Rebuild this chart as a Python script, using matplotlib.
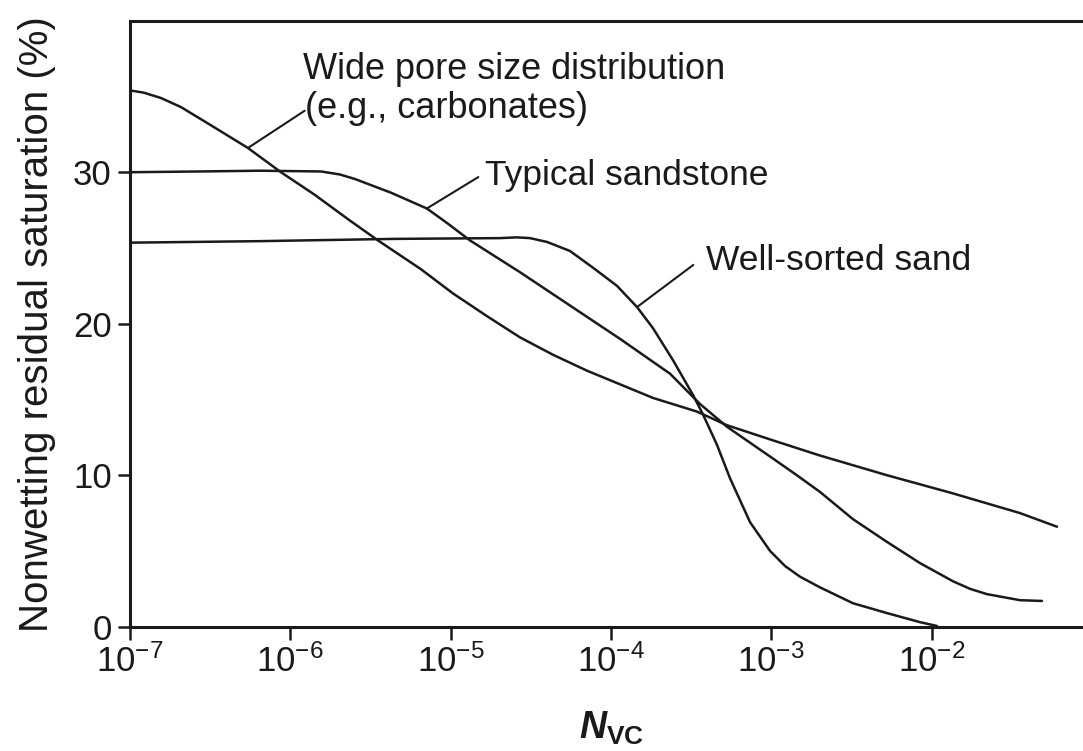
import numpy as np
import matplotlib.pyplot as plt
from matplotlib.ticker import NullLocator

plt.rcParams['font.family'] = 'Liberation Sans'
plt.rcParams['mathtext.fontset'] = 'custom'
plt.rcParams['mathtext.it'] = 'Liberation Sans:style=italic:weight=bold'
plt.rcParams['mathtext.bf'] = 'Liberation Sans:weight=bold'
plt.rcParams['mathtext.rm'] = 'Liberation Sans'

# log10(N_vc) and residual saturation (%) for each rock type
wide_logn = [-7.0, -6.913, -6.807, -6.682, -6.495, -6.264, -6.058, -5.846, -5.640, -5.453,
             -5.185, -4.985, -4.773, -4.567, -4.361, -4.149, -3.943, -3.737, -3.463,
             -3.276, -2.989, -2.696, -2.278, -1.866, -1.448, -1.217]
wide_sat = [35.4, 35.25, 34.9, 34.3, 33.1, 31.6, 30.0, 28.5, 26.9, 25.5,
            23.6, 22.0, 20.5, 19.1, 17.95, 16.9, 16.0, 15.1, 14.2,
            13.3, 12.3, 11.3, 10.0, 8.8, 7.5, 6.6]

sand_logn = [-7.0, -6.563, -6.189, -5.808, -5.690, -5.596, -5.372, -5.147, -5.016, -4.879,
             -4.567, -4.255, -3.943, -3.631, -3.444, -3.276, -2.989, -2.840, -2.696, -2.490,
             -2.278, -2.072, -1.866, -1.760, -1.654, -1.448, -1.311]
sand_sat = [30.0, 30.05, 30.1, 30.05, 29.85, 29.55, 28.65, 27.6, 26.6, 25.5,
            23.4, 21.2, 19.0, 16.7, 14.7, 13.2, 11.1, 10.0, 8.9, 7.1,
            5.6, 4.2, 3.0, 2.5, 2.15, 1.75, 1.7]

sorted_logn = [-7.0, -6.189, -5.347, -4.692, -4.586, -4.505, -4.399, -4.255, -4.112, -3.962,
               -3.837, -3.737, -3.613, -3.488, -3.425, -3.338, -3.257, -3.132, -3.007,
               -2.913, -2.820, -2.696, -2.490, -2.278, -2.072, -1.966]
sorted_sat = [25.35, 25.45, 25.6, 25.65, 25.7, 25.65, 25.4, 24.8, 23.7, 22.5,
              21.1, 19.7, 17.6, 15.3, 14.0, 12.0, 9.8, 6.9, 5.0,
              4.0, 3.3, 2.6, 1.55, 0.9, 0.3, 0.05]

ink = '#1a1a1a'
fig = plt.figure(figsize=(10.83, 7.51), dpi=100)
ax = fig.add_axes([0.1200, 0.1655, 0.8800, 0.8069])

for logn, sat in [(wide_logn, wide_sat), (sand_logn, sand_sat), (sorted_logn, sorted_sat)]:
    ax.plot(10.0 ** np.array(logn), sat, color=ink, lw=1.8,
            solid_joinstyle='round', solid_capstyle='round')

ax.set_xscale('log')
ax.set_xlim(1e-7, 10 ** -1.055)
ax.set_ylim(0, 40)
ax.set_yticks([0, 10, 20, 30])
ax.set_xticks([1e-7, 1e-6, 1e-5, 1e-4, 1e-3, 1e-2])
ax.xaxis.set_minor_locator(NullLocator())

ax.spines['right'].set_visible(False)
for s in ['left', 'bottom', 'top']:
    ax.spines[s].set_linewidth(2.2)
    ax.spines[s].set_color(ink)
ax.tick_params(axis='both', direction='out', length=9, width=1.8, color=ink,
               labelsize=25, labelcolor=ink, pad=4)

ax.set_ylabel('Nonwetting residual saturation (%)', fontsize=29, color=ink)
ax.yaxis.set_label_coords(-0.078, 0.5)
ax.set_xlabel(r'$N_{\mathbf{VC}}$', fontsize=27, color=ink)
ax.xaxis.set_label_coords(0.505, -0.137)

# curve labels with leader lines
lead = dict(arrowstyle='-', color=ink, lw=1.5, shrinkA=0, shrinkB=0)
ax.annotate('', xy=(10 ** -6.264, 31.6), xytext=(10 ** -5.91, 34.06), arrowprops=lead)
ax.annotate('', xy=(10 ** -5.149, 27.6), xytext=(10 ** -4.827, 29.68), arrowprops=lead)
ax.annotate('', xy=(10 ** -3.837, 21.1), xytext=(10 ** -3.486, 23.88), arrowprops=lead)

ax.text(10 ** -5.921, 36.14, 'Wide pore size distribution', fontsize=26, color=ink, va='baseline')
ax.text(10 ** -5.908, 33.6, '(e.g., carbonates)', fontsize=26, color=ink, va='baseline')
ax.text(10 ** -4.785, 29.15, 'Typical sandstone', fontsize=25.5, color=ink, va='baseline')
ax.text(10 ** -3.407, 23.57, 'Well-sorted sand', fontsize=25.5, color=ink, va='baseline')

fig.savefig('out.png', dpi=100)
